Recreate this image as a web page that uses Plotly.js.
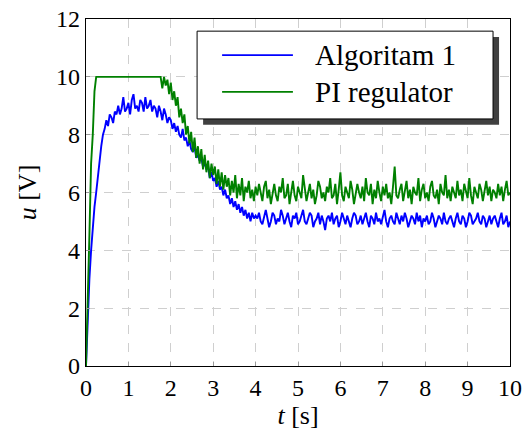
<!DOCTYPE html>
<html>
<head>
<meta charset="utf-8">
<script src="https://cdn.plot.ly/plotly-3.0.1.min.js"></script>
<style>
html,body{margin:0;padding:0;background:#fff;}
#chart{width:524px;height:430px;}
</style>
</head>
<body>
<div id="chart"></div>
<script>
// sample spacing of the recorded signals [s]
const dt = 0.04;

const seriesNames = ["Algoritam 1", "PI regulator"];
const seriesColors = ["#0000ff", "#008000"];

const xTicks = [0,1,2,3,4,5,6,7,8,9,10];
const yTicks = [0,2,4,6,8,10,12];

// Algoritam 1 control signal u [V]
const uAlg = [
0,1.6,3.0,4.0,4.8,5.5,6.0,6.6,7.1,7.6,
8.0,8.2,8.5,8.3,8.7,8.6,8.4,8.8,8.7,9.0,
8.7,8.9,9.3,8.8,8.9,9.1,8.7,9.2,9.4,8.9,
9.0,8.8,9.2,9.1,8.8,9.3,8.9,9.0,9.2,8.8,
9.0,8.9,8.6,9.0,8.8,8.5,8.9,8.7,8.4,8.6,
8.5,8.2,8.4,8.1,8.3,8.0,7.9,8.2,7.8,7.9,
7.6,7.8,7.5,7.4,7.6,7.2,7.3,7.1,7.2,6.9,
7.0,6.8,6.9,6.5,6.7,6.4,6.5,6.2,6.4,6.1,
6.2,5.9,6.1,5.8,5.9,5.6,5.8,5.5,5.7,5.4,
5.6,5.3,5.5,5.2,5.4,5.1,5.3,5.0,5.3,5.1,
5.2,
5.1,5.3,5.0,4.9,5.2,5.4,5.1,4.8,5.0,5.3,
5.2,4.9,5.1,5.0,5.4,5.2,4.9,5.1,5.3,5.0,
4.8,5.2,5.1,5.3,4.9,5.0,5.2,5.4,5.0,4.9,
5.1,5.3,5.2,4.8,5.0,5.1,5.3,4.9,5.2,5.0,
4.7,5.1,5.2,5.0,5.3,4.9,5.1,5.2,4.8,5.0,
5.3,5.1,4.9,5.2,5.0,4.8,5.1,5.3,5.2,4.9,
5.0,5.2,4.9,5.1,5.3,5.0,4.8,5.2,5.1,4.9,
5.3,5.0,5.1,4.9,5.2,5.4,5.0,4.8,5.1,5.2,
5.0,4.9,5.3,5.1,4.9,5.2,5.0,5.3,5.1,4.8,
5.0,5.2,5.1,4.9,5.3,5.0,5.2,4.8,5.1,5.0,
5.2,4.9,5.0,5.3,5.1,4.8,5.0,5.2,5.1,4.9,
5.3,5.0,4.9,5.1,5.2,5.0,4.8,5.1,5.3,5.0,
4.9,5.2,5.1,4.8,5.0,5.3,5.2,4.9,5.0,5.1,
5.3,5.0,4.9,5.2,5.1,4.8,5.0,5.2,4.9,5.1,
5.2,5.0,4.8,5.1,5.3,4.9,5.0,5.2,4.8,5.0
];

// PI regulator control signal u [V]
const uPI = [
0,2.0,4.5,7.0,8.0,9.5,10,10,10,10,
10,10,10,10,10,10,10,10,10,10,
10,10,10,10,10,10,10,10,10,10,
10,10,10,10,10,10,10,10,10,10,
10,10,10,10,10,9.6,10,9.7,9.9,9.4,
9.8,9.2,9.5,9.0,9.3,8.6,8.9,8.4,8.7,8.0,
8.3,7.7,8.1,7.4,7.9,7.2,7.6,7.0,7.5,6.8,
7.3,6.7,7.1,6.5,7.0,6.6,6.9,6.3,6.8,6.2,
6.7,6.1,6.6,6.2,6.5,5.9,6.4,6.0,6.6,5.8,
6.3,5.9,6.5,5.7,6.2,6.0,6.4,5.8,6.1,5.7,
6.2,
5.9,6.3,6.0,5.7,6.2,6.4,5.8,6.1,5.6,6.0,
6.3,5.9,5.7,6.2,6.0,6.5,5.8,5.9,6.3,5.6,
6.1,6.4,5.9,5.7,6.2,6.0,5.8,6.6,6.1,5.7,
6.0,6.3,5.8,6.1,5.6,5.9,6.4,6.2,5.8,6.0,
5.7,6.2,6.0,6.5,5.8,5.9,6.3,5.6,6.1,6.7,
5.9,5.7,6.2,6.0,5.8,6.4,6.1,5.6,5.9,6.3,
6.0,5.8,6.2,5.7,6.5,6.0,5.9,6.3,5.6,6.1,
5.8,6.4,6.0,5.7,6.2,5.9,6.3,5.8,6.0,5.6,
6.2,6.9,5.9,5.8,6.1,6.3,5.7,6.0,6.4,5.8,
6.1,5.6,6.2,6.0,5.9,6.5,5.7,6.1,6.3,5.8,
6.0,5.7,6.2,6.4,5.9,5.8,6.1,5.6,6.3,6.0,
5.9,6.6,5.8,6.1,5.7,6.2,6.0,5.8,6.4,5.9,
6.1,5.7,6.3,6.0,5.8,6.5,5.9,5.6,6.2,6.0,
5.8,6.3,6.1,5.7,6.0,6.4,5.9,6.2,5.7,6.1,
6.0,5.8,6.3,5.9,6.2,5.7,6.1,6.4,5.9,6.0
];

const series = [uAlg, uPI];
const FAM = "Times New Roman";

const traces = series.map((u, k) => ({
  type: "scatter",
  mode: "lines",
  name: seriesNames[k],
  x: u.map((_, i) => +(i * dt).toFixed(2)),
  y: u,
  line: {color: seriesColors[k], width: 1.9},
  showlegend: false
}));

// hand-drawn legend (box with shadow) in paper coordinates
const L = {x0: 0.262, x1: 0.960, y0: 0.712, y1: 0.965, sh: 0.0142, shy: 0.017};
const rowY = [0.896, 0.790];
const shapes = [
  {type:"rect", xref:"paper", yref:"paper", x0:L.x0+L.sh, x1:L.x1+L.sh, y0:L.y0-L.shy, y1:L.y1-L.shy,
   fillcolor:"#404040", line:{width:0}, layer:"above"},
  {type:"rect", xref:"paper", yref:"paper", x0:L.x0, x1:L.x1, y0:L.y0, y1:L.y1,
   fillcolor:"#ffffff", line:{color:"#000", width:1}, layer:"above"}
];
const annotations = [];
seriesNames.forEach((n, k) => {
  shapes.push({type:"line", xref:"paper", yref:"paper", x0:0.321, x1:0.488, y0:rowY[k], y1:rowY[k],
    line:{color:seriesColors[k], width:1.6}, layer:"above"});
  annotations.push({xref:"paper", yref:"paper", x:0.535, y:rowY[k], xanchor:"left", yanchor:"middle",
    text:n, showarrow:false, font:{family:FAM, size:29, color:"#000"}});
});

const layout = {
  width: 524, height: 430,
  margin: {l: 86, r: 14, t: 19, b: 64},
  paper_bgcolor: "#fff", plot_bgcolor: "#fff",
  xaxis: {
    range: [0, 10], tickvals: xTicks, ticktext: xTicks.map(String),
    showgrid: true, gridcolor: "#cfcfcf", griddash: "dash", gridwidth: 1,
    zeroline: false, showline: true, linecolor: "#000", linewidth: 1.2, mirror: true,
    ticks: "inside", ticklen: 4, tickcolor: "#999",
    tickfont: {family: FAM, size: 24, color: "#000"},
    title: {text: "<i>t</i> [s]", font: {family: FAM, size: 26, color: "#000"}, standoff: 4}
  },
  yaxis: {
    range: [0, 12], tickvals: yTicks, ticktext: yTicks.map(String),
    showgrid: true, gridcolor: "#cfcfcf", griddash: "dash", gridwidth: 1,
    zeroline: false, showline: true, linecolor: "#000", linewidth: 1.2, mirror: true,
    ticks: "inside", ticklen: 4, tickcolor: "#999",
    tickfont: {family: FAM, size: 24, color: "#000"},
    title: {text: "<i>u</i> [V]", font: {family: FAM, size: 26, color: "#000"}, standoff: 12}
  },
  shapes: shapes,
  annotations: annotations
};

Plotly.newPlot("chart", traces, layout, {staticPlot: true});
</script>
</body>
</html>
